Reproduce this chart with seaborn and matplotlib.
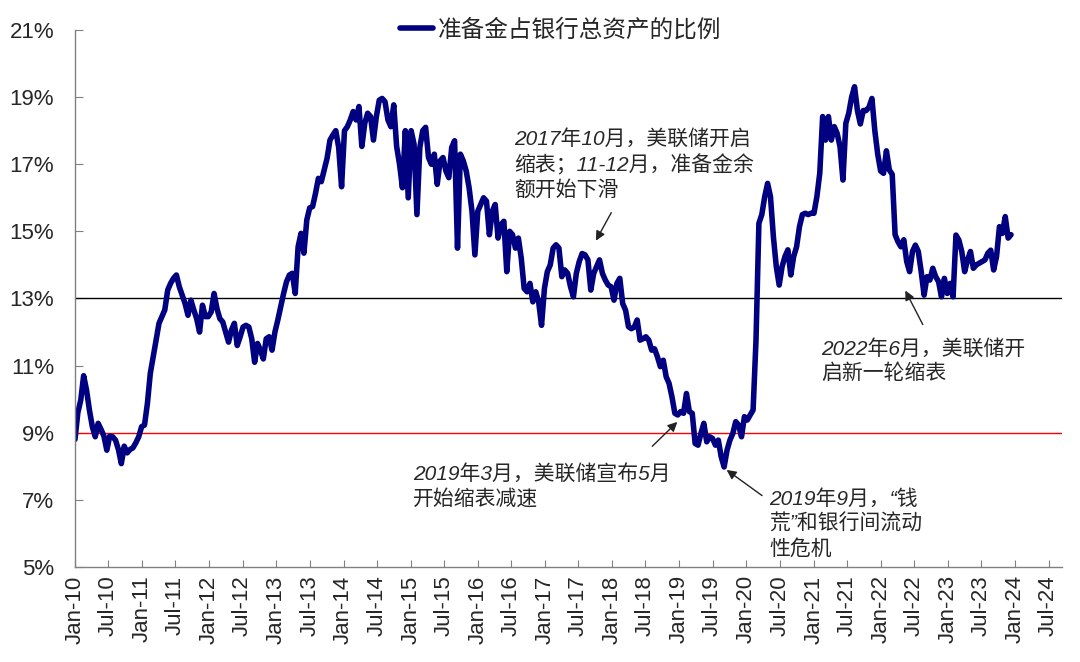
import numpy as np
import pandas as pd
import matplotlib
matplotlib.use('Agg')
import matplotlib.pyplot as plt
import matplotlib.dates as mdates
import seaborn as sns

# reserves / total bank assets (%), about two points a month
r2010 = [8.8, 9.6, 9.97, 10.7, 10.27, 9.67, 9.18, 8.88, 9.28, 9.1, 8.9, 8.48,
         8.9, 8.88, 8.78, 8.5, 8.08, 8.6, 8.4, 8.5, 8.55, 8.7, 8.88, 9.18]
r2011 = [9.23, 9.87, 10.77, 11.26, 11.76, 12.26, 12.46, 12.66, 13.25, 13.45, 13.6, 13.7,
         13.35, 13.1, 12.85, 12.5, 12.95, 12.66, 12.4, 12.0, 12.8, 12.46, 12.46, 12.6]
r2012 = [13.15, 12.7, 12.4, 12.3, 12.0, 11.7, 12.06, 12.26, 11.6, 11.86, 12.15, 12.2,
         12.15, 11.8, 11.1, 11.66, 11.46, 11.2, 11.8, 11.86, 11.46, 12.0, 12.36, 12.76]
r2013 = [13.15, 13.5, 13.7, 13.75, 13.15, 14.54, 14.94, 14.35, 15.34, 15.7, 15.74, 16.13,
         16.58, 16.48, 16.83, 17.18, 17.72, 17.87, 18.0, 17.5, 16.33, 18.0, 18.12, 18.32]
r2014 = [18.57, 18.32, 18.72, 17.53, 18.22, 18.52, 18.42, 17.72, 18.42, 18.91, 18.96, 18.86,
         18.32, 18.12, 18.77, 17.53, 17.0, 16.3, 18.0, 16.0, 18.0, 17.6, 15.5, 17.5]
r2015 = [18.0, 18.1, 17.2, 17.0, 17.3, 16.4, 17.1, 17.2, 16.8, 16.6, 17.5, 17.7,
         14.5, 17.3, 17.1, 16.8, 16.3, 15.6, 14.3, 15.6, 15.8, 16.0, 15.9, 14.9]
r2016 = [15.6, 15.8, 14.8, 15.2, 15.3, 13.8, 15.0, 14.9, 14.5, 14.8, 14.2, 13.3,
         13.2, 13.45, 12.9, 13.2, 12.9, 12.2, 13.3, 13.8, 14.0, 14.5, 14.6, 14.5]
r2017 = [13.65, 13.85, 13.75, 13.35, 13.05, 13.75, 14.1, 14.34, 14.3, 14.15, 13.25, 13.75,
         13.95, 14.15, 13.75, 13.55, 13.4, 13.35, 12.95, 13.45, 13.6, 12.85, 12.65, 12.16]
r2018 = [12.1, 12.15, 12.36, 11.76, 11.8, 11.86, 11.76, 11.46, 11.5, 11.26, 10.97, 11.16,
         10.67, 10.47, 10.07, 9.58, 9.53, 9.63, 9.58, 10.17, 9.63, 9.58, 8.68, 8.63]
r2019 = [8.98, 9.28, 8.73, 8.88, 8.83, 8.63, 8.78, 8.28, 7.98, 8.48, 8.78, 8.98,
         9.33, 9.23, 8.88, 9.48, 9.38, 9.53, 9.68, 11.76, 15.24, 15.5, 16.03, 16.43]
r2020 = [16.03, 14.84, 13.95, 13.4, 13.95, 14.25, 14.45, 13.7, 14.25, 14.54, 15.14, 15.5,
         15.54, 15.5, 15.54, 15.54, 16.03, 16.73, 18.42, 17.72, 18.42, 17.72, 18.12, 17.92]
r2021 = [17.52, 16.53, 18.22, 18.52, 19.0, 19.31, 18.6, 18.2, 18.6, 18.6, 18.7, 18.96,
         18.0, 17.3, 16.8, 16.73, 17.4, 16.83, 16.7, 14.9, 14.69, 14.54, 14.75, 14.1]
r2022 = [13.8, 14.4, 14.59, 14.4, 13.8, 13.1, 13.65, 13.55, 13.9, 13.65, 13.5, 13.05,
         13.6, 13.15, 13.45, 13.05, 14.89, 14.74, 14.4, 13.8, 14.15, 14.4, 13.9, 14.0]
r2023 = [14.05, 14.1, 14.15, 14.35, 14.44, 13.85, 14.25, 15.14, 14.94, 15.44, 14.8, 14.9]

ratio = r2010 + r2011 + r2012 + r2013 + r2014 + r2015 + r2016 + r2017 + \
    r2018 + r2019 + r2020 + r2021 + r2022 + r2023
dates = pd.date_range('2010-01-01', '2023-12-10', periods=len(ratio))

df = pd.DataFrame({'date': dates, 'ratio': ratio})

LABEL = '准备金占银行总资产的比例'
NAVY = '#000080'

sns.set_style('white')
plt.rcParams['font.family'] = ['Liberation Sans', 'Noto Sans CJK SC']
plt.rcParams['axes.unicode_minus'] = False

fig = plt.figure(figsize=(10.8, 6.62), dpi=100)
ax = fig.add_axes([0.0694, 0.1435, 0.9139, 0.8112])

sns.lineplot(data=df, x='date', y='ratio', ax=ax, color=NAVY, linewidth=4,
             label=LABEL)

ax.axhline(13, color='black', lw=1, zorder=1)
ax.axhline(9, color='#FF0000', lw=1, zorder=1)

ax.set_ylim(5, 21)
ax.set_yticks(np.arange(5, 22, 2))
ax.set_yticklabels([f'{v}%' for v in range(5, 22, 2)])
ax.set_xlim(pd.Timestamp('2010-01-01'), pd.Timestamp('2024-09-12'))
ax.xaxis.set_major_locator(mdates.MonthLocator(bymonth=[1, 7]))
ax.xaxis.set_major_formatter(mdates.DateFormatter('%b-%y'))
ax.set_xlabel('')
ax.set_ylabel('')

for side in ['top', 'right']:
    ax.spines[side].set_visible(False)
for side in ['left', 'bottom']:
    ax.spines[side].set_color('#808080')
    ax.spines[side].set_linewidth(1)

ax.tick_params(axis='y', direction='in', length=6, color='#808080',
               labelsize=16, pad=15, left=True)
ax.tick_params(axis='x', direction='in', length=5, color='#808080',
               labelsize=16, pad=6, rotation=90, bottom=True)

ax.legend(loc='center', bbox_to_anchor=(0.492, 1.0), frameon=False,
          fontsize=17, handlelength=1.4, handletextpad=0.2)

# annotations
notes = [
    (pd.Timestamp('2016-07-18'), 18.05, '2017年10月，美联储开启\n缩表；11-12月，准备金余\n额开始下滑'),
    (pd.Timestamp('2015-01-12'), 8.06, '2019年3月，美联储宣布5月\n开始缩表减速'),
    (pd.Timestamp('2020-05-04'), 7.32, '2019年9月，“钱\n荒”和银行间流动\n性危机'),
    (pd.Timestamp('2021-02-12'), 11.79, '2022年6月，美联储开\n启新一轮缩表'),
]
for x, y, txt in notes:
    ax.text(x, y, txt, fontsize=15, style='italic', ha='left', va='top',
            linespacing=1.3)

arrows = [
    ((pd.Timestamp('2017-09-27'), 14.65), (pd.Timestamp('2018-01-03'), 15.63)),
    ((pd.Timestamp('2019-01-01'), 9.38), (pd.Timestamp('2018-07-27'), 8.54)),
    ((pd.Timestamp('2019-09-03'), 7.94), (pd.Timestamp('2020-04-07'), 7.08)),
    ((pd.Timestamp('2022-05-07'), 13.31), (pd.Timestamp('2022-08-24'), 12.15)),
]
for head, tail in arrows:
    ax.annotate('', xy=head, xytext=tail,
                arrowprops=dict(arrowstyle='-|>', color='#222222', lw=1,
                                mutation_scale=14))

fig.savefig('out.png', dpi=100)
